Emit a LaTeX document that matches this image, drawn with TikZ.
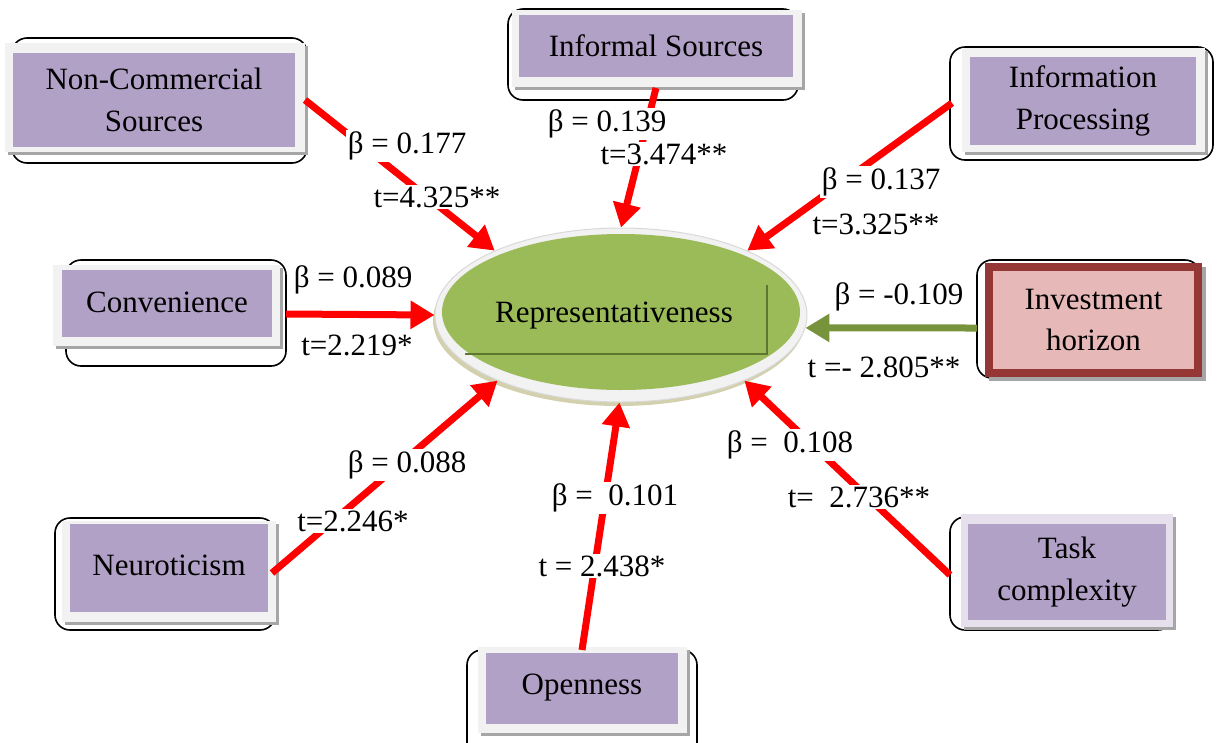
\documentclass[tikz,border=0pt]{standalone}
\usepackage{fontspec}
\setmainfont{Liberation Serif}
\usetikzlibrary{arrows.meta,shapes.geometric}
\definecolor{purp}{HTML}{B2A1C7}
\definecolor{frm}{HTML}{F2F2F2}
\definecolor{frmb}{HTML}{E5E0EC}
\definecolor{shd}{HTML}{A6A6A6}
\definecolor{grn}{HTML}{9BBB59}
\definecolor{dgrn}{HTML}{77933C}
\definecolor{pink}{HTML}{E6B9B8}
\definecolor{dred}{HTML}{953735}
\tikzset{
  txt/.style={font=\fontsize{31}{41.5}\selectfont, align=center, text=black},
  pbox/.style={txt, fill=purp, inner sep=0pt},
  outl/.style={draw=black, line width=1.6pt, fill=white, rounded corners=15pt},
  frame/.style={fill=frm},
  shadowbox/.style={fill=shd},
  lab/.style={txt, fill=white, inner sep=1.5pt},
  arr/.style={line width=7pt, draw=red, -{Triangle[length=24pt,width=27pt]}},
  garr/.style={line width=7pt, draw=dgrn, -{Triangle[length=24pt,width=27pt]}}
}
\begin{document}
\begin{tikzpicture}[x=1pt,y=-1pt]
\useasboundingbox (0,0) rectangle (1228,742);
\clip (0,0) rectangle (1228,742);

% ---------- Non-Commercial Sources
\draw[outl] (12,38) rectangle (307,163);
\fill[shadowbox] (8,46) rectangle (308,155);
\fill[frame] (5,43) rectangle (305,152);
\node[pbox, minimum width=282pt, minimum height=94pt] (ncs) at (154,100) {Non-Commercial\\Sources};

% ---------- Informal Sources
\draw[outl] (508,9) rectangle (798,100);
\fill[shadowbox] (515,13) rectangle (805,90);
\fill[frame] (512,10) rectangle (802,87);
\node[pbox, minimum width=274pt, minimum height=62pt] (inf) at (656,46) {Informal Sources};

% ---------- Information Processing
\draw[outl] (950,47) rectangle (1213,160);
\fill[shadowbox] (965,51) rectangle (1208,155);
\fill[frame] (962,48) rectangle (1205,152);
\node[pbox, minimum width=226pt, minimum height=88pt] (ipr) at (1083,101) {Information\\Processing};

% ---------- Convenience
\draw[outl] (66,260) rectangle (286,366);
\fill[shadowbox] (56,268) rectangle (283,349);
\fill[frame] (53,265) rectangle (280,346);
\node[pbox, minimum width=210pt, minimum height=67pt] (con) at (167,303) {\raisebox{2pt}{Convenience}};

% ---------- Investment horizon
\draw[outl] (977,260) rectangle (1200,378);
\fill[shadowbox] (989,267) rectangle (1206,381);
\node[txt, fill=pink, draw=dred, line width=8pt, minimum width=209pt, minimum height=106pt, inner sep=0pt] (inv) at (1093.5,320) {Investment\\horizon};

% ---------- Neuroticism
\draw[outl] (55,518) rectangle (275,630);
\fill[shadowbox] (65,524) rectangle (279,625);
\fill[frame] (62,521) rectangle (276,622);
\node[pbox, minimum width=198pt, minimum height=88pt] (neu) at (169,568) {\raisebox{5pt}{Neuroticism}};

% ---------- Openness
\draw[outl] (467,650) rectangle (697,770);
\fill[shadowbox] (481,650) rectangle (690,736);
\fill[frame] (478,647) rectangle (687,733);
\node[pbox, minimum width=192pt, minimum height=71pt] (ope) at (582,688) {Openness};

% ---------- Task complexity
\draw[outl] (950,517) rectangle (1173,630);
\fill[shadowbox] (964,517) rectangle (1176,630);
\fill[frmb] (961,514) rectangle (1173,627);
\node[pbox, minimum width=198pt, minimum height=96pt] (tsk) at (1067,572) {Task\\complexity};

% ---------- Representativeness ellipse
\fill[fill=gray!55!olive!40] (619,320) ellipse [x radius=186pt, y radius=86pt];
\node[ellipse, fill=frm, draw=gray!30, line width=1pt, minimum width=372pt, minimum height=174pt, inner sep=0pt] (rep) at (621,315) {};
\fill[grn] (621,312) ellipse [x radius=179pt, y radius=78pt];
\draw[dgrn!80!black, line width=2.5pt] (767,285) -- (767,354) -- (465,354);
\node[txt] (rept) at (614,316) {Representativeness};

% ---------- connector start points
\coordinate (s1) at (305,100);
\coordinate (s2) at (656,88);
\coordinate (s3) at (952,103);
\coordinate (s4) at (286,314);
\coordinate (s5) at (977,328);
\coordinate (s6) at (272,573);
\coordinate (s7) at (582,650);
\coordinate (s8) at (950,575);

% ---------- connectors
\draw[arr] (s1) -- (rep.153.6);
\draw[arr] (s2) -- (rep.90);
\draw[arr] (s3) -- (rep.27);
\draw[arr] (s4) -- (rep.180);
\draw[garr] (s5) -- (rep.356);
\draw[arr] (s6) -- (rep.208);
\draw[arr] (s7) -- (rep.269.4);
\draw[arr] (s8) -- (rep.332.8);

% ---------- labels
\node[lab] (b1) at (407,146) {β = 0.177};
\node[lab] (t1) at (437,197) {t=4.325**};
\node[lab] (b2) at (607,124) {β = 0.139};
\node[lab] (t2) at (664,154) {t=3.474**};
\node[lab] (b3) at (881,182) {β = 0.137};
\node[lab] (t3) at (876,224) {t=3.325**};
\node[lab] (b4) at (353,280) {β = 0.089};
\node[lab] (t4) at (357,345) {t=2.219*};
\node[lab] (b5) at (899,297) {β = -0.109};
\node[lab] (t5) at (884,367) {t =- 2.805**};
\node[lab] (b6) at (407,465) {β = 0.088};
\node[lab] (t6) at (353,521) {t=2.246*};
\node[lab] (b7) at (615,498) {β = \ 0.101};
\node[lab] (t7) at (602,566) {t = 2.438*};
\node[lab] (b8) at (790,445) {β = \ 0.108};
\node[lab] (t8) at (859,497) {t= \ 2.736**};
\end{tikzpicture}
\end{document}
